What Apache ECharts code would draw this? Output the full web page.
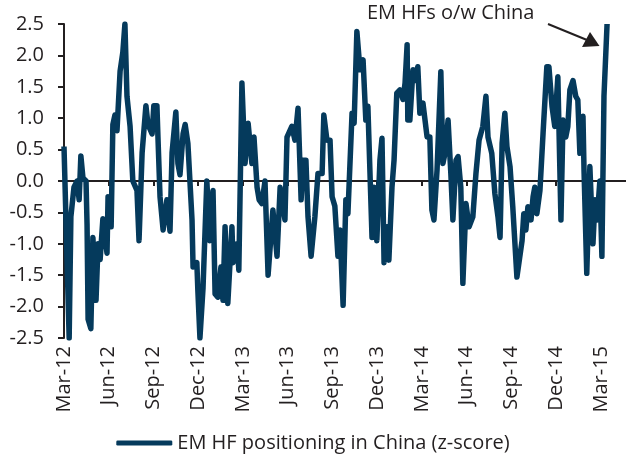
<!DOCTYPE html>
<html>
<head>
<meta charset="utf-8">
<script src="https://cdn.jsdelivr.net/npm/echarts@6/dist/echarts.min.js"></script>
<style>
html,body{margin:0;padding:0;background:#fff;}
#main{width:626px;height:464px;}
</style>
</head>
<body>
<div id="main"></div>
<script>
// quarter labels, one every 13 weeks
const quarterLabels = ['Mar-12','Jun-12','Sep-12','Dec-12','Mar-13','Jun-13','Sep-13','Dec-13','Mar-14','Jun-14','Sep-14','Dec-14','Mar-15'];
const weeksPerQuarter = 13;

// weeks since start of Mar-12
const weekIdx = [0,1.5,2.0,2.9,3.8,4.4,4.9,5.5,6.4,
  6.7,7.0,7.8,8.4,9.3,9.9,10.5,11.3,12.5,12.8,
  13.7,14.2,14.8,15.4,16.3,17.1,17.7,18.3,19.2,20.0,
  21.2,21.8,22.7,23.8,24.4,25.6,26.1,27.0,27.3,27.9,
  28.8,29.9,30.8,31.4,32.5,33.1,33.7,34.6,35.2,36.0,
  37.2,37.5,38.6,38.9,39.5,40.4,41.5,42.4,43.3,43.9,
  44.7,45.6,46.2,46.8,47.6,48.8,49.1,50.3,50.8,51.7,
  52.6,53.5,54.6,55.2,56.1,56.7,57.5,58.4,59.3,60.7,
  61.9,62.8,64.2,64.8,66.2,67.1,68.0,68.9,69.4,70.3,
  70.9,71.8,72.9,73.8,75.0,75.5,76.4,77.3,77.9,78.7,
  79.6,80.2,81.1,81.9,82.5,83.7,84.3,85.1,86.0,86.9,
  87.7,88.3,89.5,90.1,90.9,91.8,92.4,93.0,93.8,94.4,
  95.3,95.9,96.7,97.6,98.5,99.1,99.7,99.9,100.5,101.4,
  102.0,102.8,103.4,104.3,105.5,106.3,106.9,107.5,108.4,109.5,
  110.1,110.7,111.6,112.4,113.0,113.9,114.5,115.3,115.9,116.8,
  117.7,118.8,119.7,120.6,121.7,122.6,123.2,124.3,125.2,126.1,
  126.7,127.3,128.1,128.7,129.6,130.4,131.6,132.2,133.1,133.6,
  134.2,134.8,135.7,136.3,136.8,137.4,138.3,139.2,140.3,140.9,
  141.8,142.6,143.5,144.4,145.0,145.8,146.4,147.0,147.9,148.7,
  149.3,149.9,150.8,151.1,151.9,152.8,153.7,154.3,154.9,155.7,
  156.3,156.9,157.8];

// EM HF positioning in China (z-score)
const zScore = [0.55,-2.5,-0.57,-0.1,0.0,-0.3,0.4,0.05,0.0,
  -0.7,-2.2,-2.35,-0.9,-1.9,-1.0,-1.25,-0.6,-1.15,-0.25,
  -0.73,0.9,1.05,0.8,1.75,2.05,2.5,1.35,0.87,0.0,
  -0.15,-0.95,0.45,1.2,0.9,0.75,1.2,1.2,0.7,-0.25,
  -0.78,-0.3,-0.8,0.45,1.1,0.28,0.1,0.75,0.9,0.6,
  -0.62,-1.37,-1.3,-1.75,-2.5,-1.7,0.0,-0.95,-0.15,-1.8,
  -1.85,-1.37,-1.9,-0.73,-1.95,-0.73,-1.3,-1.0,-1.42,1.56,
  0.28,0.92,0.28,0.7,-0.1,-0.3,-0.36,0.0,-1.5,-0.46,
  -1.2,-0.1,-0.62,0.7,0.87,0.65,1.16,-0.3,0.33,0.33,
  -0.57,-1.2,-0.57,0.12,0.12,1.05,0.65,0.65,-0.25,-0.4,
  -1.2,-0.78,-1.98,-0.3,-0.52,1.08,0.92,2.38,1.77,1.93,
  0.97,1.19,-0.9,-0.1,-0.95,0.33,0.68,-1.3,-0.73,-1.26,
  -0.1,0.33,1.4,1.45,1.3,1.56,2.17,0.97,0.97,1.77,
  1.6,1.82,1.08,1.24,0.7,0.7,-0.46,-0.62,0.18,1.74,
  0.28,0.44,0.97,0.12,-0.62,0.33,0.39,-0.1,-1.63,-0.36,
  -0.73,-0.57,0.12,0.65,0.87,1.35,0.7,0.44,-0.2,-0.57,
  -0.9,0.6,1.08,0.55,0.23,-0.41,-1.53,-1.3,-0.95,-0.52,
  -0.78,-0.41,-0.62,-0.25,-0.1,-0.52,-0.15,0.76,1.82,1.82,
  1.19,0.87,1.66,-0.62,0.97,0.7,0.87,1.45,1.6,1.35,
  1.29,0.44,1.03,0.18,-1.47,0.23,-1.0,-0.3,-0.62,0.0,
  -1.2,1.35,2.5];

const seriesName = 'EM HF positioning in China (z-score)';
const lineColor = '#053a5c';
const inkColor = '#231f20';
const fontFamily = '"Open Sans", "DejaVu Sans", sans-serif';

const quarterTicks = quarterLabels.map((q, i) => i * weeksPerQuarter);
const lineData = weekIdx.map((w, i) => [w, zScore[i]]);

const chart = echarts.init(document.getElementById('main'), null, { renderer: 'canvas' });

chart.setOption({
  animation: false,
  backgroundColor: '#fff',
  textStyle: { fontFamily: fontFamily },
  grid: { left: 64, right: 0, top: 24, bottom: 126 },
  legend: {
    data: [seriesName],
    left: 'center',
    top: 428,
    icon: 'roundRect',
    itemWidth: 56,
    itemHeight: 5,
    itemGap: 10,
    textStyle: { fontSize: 20, color: inkColor, fontFamily: fontFamily }
  },
  xAxis: [
    {
      // labels along the bottom
      type: 'value',
      position: 'bottom',
      min: 0,
      max: 163.3,
      interval: weeksPerQuarter,
      axisLine: { show: false, onZero: false },
      axisTick: { show: false },
      splitLine: { show: false },
      axisLabel: {
        customValues: quarterTicks,
        rotate: 90,
        margin: 8,
        fontSize: 20,
        color: inkColor,
        fontFamily: fontFamily,
        formatter: v => quarterLabels[Math.round(v / weeksPerQuarter)] || ''
      }
    },
    {
      // the zero line with quarter ticks
      type: 'value',
      position: 'bottom',
      min: 0,
      max: 163.3,
      interval: weeksPerQuarter,
      axisLine: { show: true, onZero: true, lineStyle: { color: inkColor, width: 2 } },
      axisTick: { show: true, customValues: quarterTicks, length: 5, lineStyle: { color: inkColor, width: 2 } },
      axisLabel: { show: false },
      splitLine: { show: false }
    }
  ],
  yAxis: {
    type: 'value',
    min: -2.5,
    max: 2.5,
    interval: 0.5,
    axisLine: { show: true, lineStyle: { color: inkColor, width: 2 } },
    axisTick: { show: true, length: 6, lineStyle: { color: inkColor, width: 2 } },
    splitLine: { show: false },
    axisLabel: {
      margin: 20,
      fontSize: 20,
      color: inkColor,
      fontFamily: fontFamily,
      formatter: v => v.toFixed(1)
    }
  },
  series: [
    {
      name: seriesName,
      type: 'line',
      xAxisIndex: 0,
      data: lineData,
      showSymbol: false,
      symbol: 'none',
      clip: true,
      lineStyle: { color: lineColor, width: 5.5, join: 'round' },
      itemStyle: { color: lineColor },
      z: 3
    }
  ],
  graphic: [
    {
      type: 'text',
      left: 367,
      top: 3,
      style: { text: 'EM HFs o/w China', fontSize: 20, fill: inkColor, fontFamily: fontFamily }
    },
    {
      type: 'line',
      shape: { x1: 548, y1: 24, x2: 587, y2: 40 },
      style: { stroke: inkColor, lineWidth: 2 }
    },
    {
      type: 'polygon',
      shape: { points: [[599.5, 46], [582, 47], [590, 32]] },
      style: { fill: inkColor }
    }
  ]
});
</script>
</body>
</html>
